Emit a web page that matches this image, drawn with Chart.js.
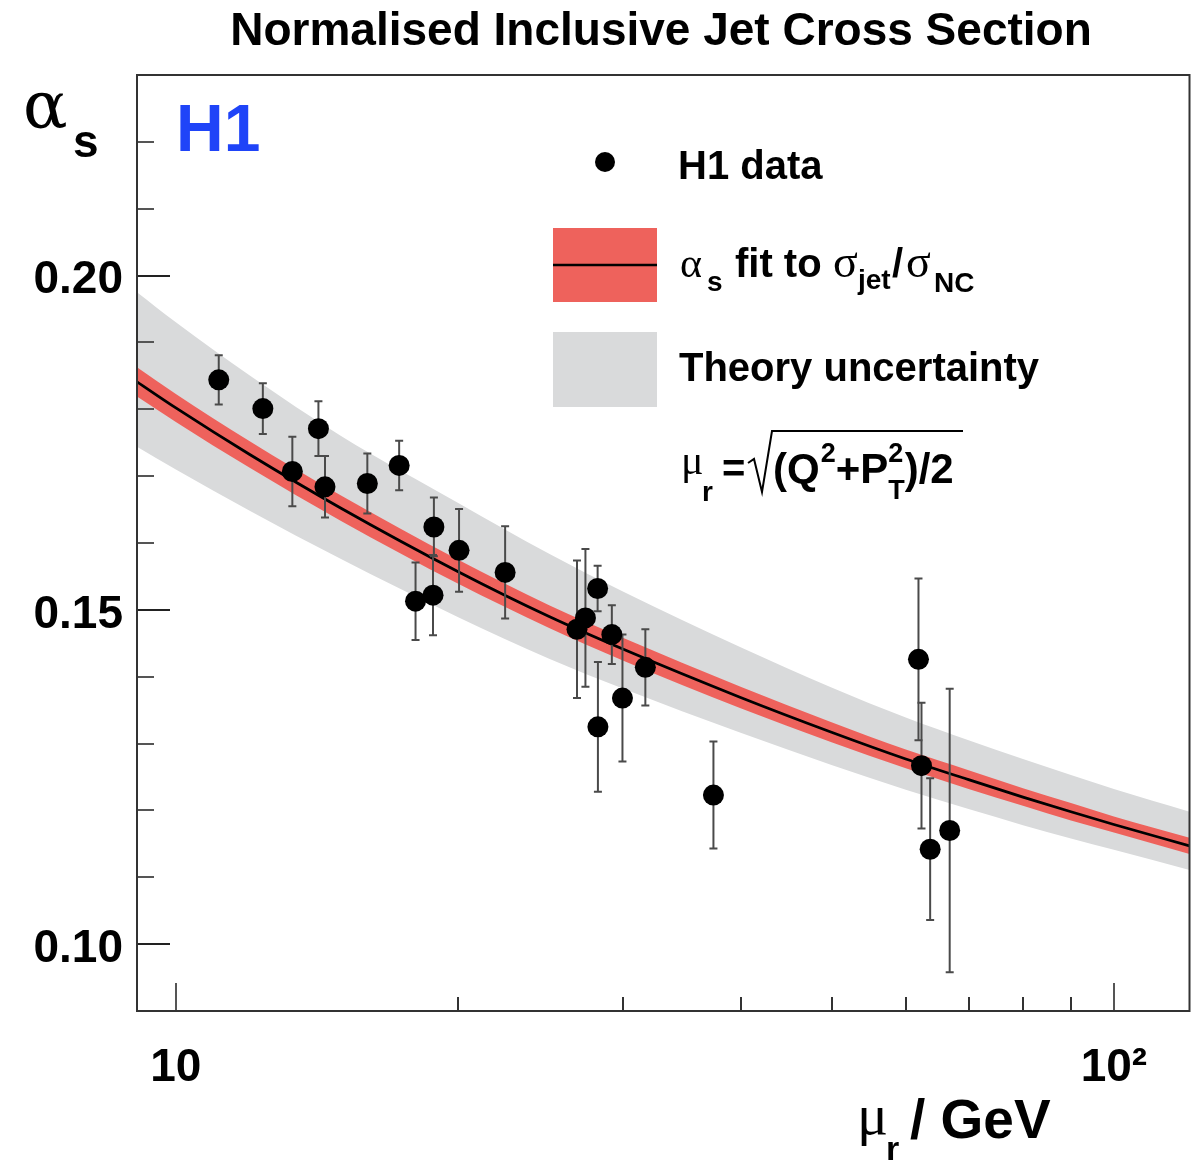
<!DOCTYPE html>
<html>
<head>
<meta charset="utf-8">
<script src="https://cdn.jsdelivr.net/npm/chart.js@4.4.1/dist/chart.umd.min.js"></script>
<style>
  html, body { margin: 0; padding: 0; background: #fff; }
  canvas { display: block; }
</style>
</head>
<body>
<canvas id="c" width="1200" height="1162"></canvas>
<script>
// H1 measurements: renormalisation scale (GeV), alpha_s and total uncertainty
const muData    = [11.11, 12.38, 13.31, 14.19, 14.42, 16.00, 17.30, 18.01, 18.80, 18.84, 20.04, 22.44,
                   26.77, 27.33, 28.16, 28.18, 29.16, 29.93, 31.66, 37.42, 61.90, 62.36, 63.70, 66.83];
const alphaData = [0.1844, 0.1801, 0.1707, 0.1771, 0.1684, 0.1689, 0.1716, 0.1513, 0.1522, 0.1624, 0.1589, 0.1556,
                   0.1471, 0.1488, 0.1532, 0.1325, 0.1463, 0.1368, 0.1414, 0.1223, 0.1426, 0.1267, 0.1142, 0.1170];
const alphaErr  = [0.0037, 0.0038, 0.0052, 0.0041, 0.0046, 0.0045, 0.0037, 0.0058, 0.0060, 0.0044, 0.0062, 0.0069,
                   0.0103, 0.0103, 0.0034, 0.0097, 0.0044, 0.0095, 0.0057, 0.0080, 0.0121, 0.0094, 0.0106, 0.0212];

// Running of the fitted alpha_s, its experimental band and the theory band
const curveMu     = [9.09, 10, 12, 15, 20, 25, 30, 40, 50, 60, 70, 80, 90, 100, 120.4];
const fitCentral  = [0.1841, 0.1802, 0.1732, 0.1652, 0.1557, 0.1490, 0.1441, 0.1369, 0.1317, 0.1277, 0.1246, 0.1220, 0.1198, 0.1179, 0.1147];
const fitHigh     = [0.1863, 0.1823, 0.1752, 0.1671, 0.1575, 0.1507, 0.1458, 0.1385, 0.1332, 0.1291, 0.1260, 0.1233, 0.1211, 0.1191, 0.1159];
const fitLow      = [0.1819, 0.1781, 0.1712, 0.1633, 0.1539, 0.1473, 0.1424, 0.1353, 0.1302, 0.1263, 0.1232, 0.1207, 0.1185, 0.1167, 0.1135];
const theoryHigh  = [0.1975, 0.1930, 0.1850, 0.1760, 0.1660, 0.1584, 0.1527, 0.1444, 0.1384, 0.1339, 0.1305, 0.1277, 0.1253, 0.1232, 0.1198];
const theoryLow   = [0.1744, 0.1710, 0.1648, 0.1576, 0.1489, 0.1427, 0.1382, 0.1316, 0.1268, 0.1231, 0.1202, 0.1178, 0.1158, 0.1141, 0.1111];

// Axis ticks
const xTickValues = [10, 20, 30, 40, 50, 60, 70, 80, 90, 100];
const xTickLabels = { 10: '10', 100: '10²' };
const yTickLabels = ['0.10', '0.15', '0.20'];

const SANS  = '"Liberation Sans", Arial, Helvetica, sans-serif';
const SERIF = '"Liberation Serif", "Times New Roman", serif';
const WIDE_SERIF = '"DejaVu Serif", "Liberation Serif", serif';
const RED   = '#ee625c';
const GREY  = '#d9dadb';

const pairs = (xs, ys) => xs.map((x, i) => ({ x: x, y: ys[i] }));

// error bars under the markers
const errorBars = {
  id: 'errorBars',
  beforeDatasetDraw(chart, args) {
    if (args.index !== 0) return;
    const { ctx, scales: { x, y } } = chart;
    ctx.save();
    ctx.beginPath();
    ctx.rect(chart.chartArea.left, chart.chartArea.top, chart.chartArea.width, chart.chartArea.height);
    ctx.clip();
    ctx.strokeStyle = '#4a4a4a';
    ctx.lineWidth = 2;
    muData.forEach((m, i) => {
      const px = x.getPixelForValue(m);
      const top = y.getPixelForValue(alphaData[i] + alphaErr[i]);
      const bot = y.getPixelForValue(alphaData[i] - alphaErr[i]);
      ctx.beginPath();
      ctx.moveTo(px, top); ctx.lineTo(px, bot);
      ctx.moveTo(px - 4, top); ctx.lineTo(px + 4, top);
      ctx.moveTo(px - 4, bot); ctx.lineTo(px + 4, bot);
      ctx.stroke();
    });
    ctx.restore();
  }
};

// frame and inward tick marks
const frameTicks = {
  id: 'frameTicks',
  afterDatasetsDraw(chart) {
    const { ctx, chartArea: a, scales: { x, y } } = chart;
    ctx.save();
    ctx.lineWidth = 2;
    x.ticks.forEach(t => {
      const v = t.value;
      const major = Math.abs(Math.log10(v) - Math.round(Math.log10(v))) < 1e-9;
      const px = Math.round(x.getPixelForValue(v));
      ctx.strokeStyle = major ? '#555' : '#333';
      ctx.beginPath();
      ctx.moveTo(px, a.bottom);
      ctx.lineTo(px, a.bottom - (major ? 28 : 14));
      ctx.stroke();
    });
    y.ticks.forEach(t => {
      const v = t.value;
      const py = Math.round(y.getPixelForValue(v));
      if (py <= a.top + 2 || py >= a.bottom - 2) return;
      const major = yTickLabels.includes(v.toFixed(2));
      ctx.strokeStyle = major ? '#222' : '#555';
      ctx.beginPath();
      ctx.moveTo(a.left, py);
      ctx.lineTo(a.left + (major ? 33 : 17), py);
      ctx.stroke();
    });
    ctx.strokeStyle = '#333';
    ctx.strokeRect(a.left, a.top, a.right - a.left, a.bottom - a.top);
    ctx.restore();
  }
};

function put(ctx, s, x, y, font, color) {
  ctx.font = font;
  ctx.fillStyle = color || '#000';
  ctx.textAlign = 'left';
  ctx.textBaseline = 'alphabetic';
  ctx.fillText(s, x, y);
  return x + ctx.measureText(s).width;
}

// title, axis titles, experiment tag and legend
const annotations = {
  id: 'annotations',
  afterDraw(chart) {
    const ctx = chart.ctx;
    ctx.save();
    // title
    ctx.font = 'bold 46px ' + SANS;
    ctx.fillStyle = '#000';
    ctx.textAlign = 'center';
    ctx.textBaseline = 'alphabetic';
    ctx.fillText('Normalised Inclusive Jet Cross Section', 661, 45);

    // y axis title
    put(ctx, 'α', 23, 128, '66px ' + WIDE_SERIF);
    put(ctx, 's', 73, 157, 'bold 46px ' + SANS);

    // x axis title
    put(ctx, 'μ', 857, 1134, '58px ' + SERIF);
    put(ctx, 'r', 886, 1160, 'bold 34px ' + SANS);
    put(ctx, '/ GeV', 910, 1138, 'bold 55px ' + SANS);

    // experiment tag
    put(ctx, 'H1', 176, 151, 'bold 66px ' + SANS, '#1f44f8');

    // legend: data marker
    ctx.fillStyle = '#000';
    ctx.beginPath();
    ctx.arc(605, 162, 10, 0, Math.PI * 2);
    ctx.fill();
    put(ctx, 'H1 data', 678, 179, 'bold 40px ' + SANS);

    // legend: fit band
    ctx.fillStyle = RED;
    ctx.fillRect(553, 228, 104, 74);
    ctx.strokeStyle = '#000';
    ctx.lineWidth = 2.5;
    ctx.beginPath();
    ctx.moveTo(553, 265); ctx.lineTo(657, 265);
    ctx.stroke();
    put(ctx, 'α', 680, 277, '42px ' + SERIF);
    put(ctx, 's', 707, 291, 'bold 28px ' + SANS);
    put(ctx, 'fit to', 735, 277, 'bold 40px ' + SANS);
    put(ctx, 'σ', 833, 277, '46px ' + SERIF);
    put(ctx, 'jet', 858, 289, 'bold 28px ' + SANS);
    put(ctx, '/', 892, 277, 'bold 40px ' + SANS);
    put(ctx, 'σ', 906, 277, '46px ' + SERIF);
    put(ctx, 'NC', 934, 292, 'bold 28px ' + SANS);

    // legend: theory band
    ctx.fillStyle = GREY;
    ctx.fillRect(553, 332, 104, 75);
    put(ctx, 'Theory uncertainty', 679, 381, 'bold 40px ' + SANS);

    // scale definition
    put(ctx, 'μ', 681, 474, '42px ' + SERIF);
    put(ctx, 'r', 702, 501, 'bold 28px ' + SANS);
    put(ctx, '=', 722, 482, 'bold 40px ' + SANS);
    ctx.strokeStyle = '#000';
    ctx.lineWidth = 2;
    ctx.beginPath();
    ctx.moveTo(748, 463);
    ctx.lineTo(754, 459);
    ctx.lineTo(762, 492);
    ctx.lineTo(772, 431);
    ctx.lineTo(963, 431);
    ctx.stroke();
    let cx = put(ctx, '(Q', 773, 483, 'bold 42px ' + SANS);
    put(ctx, '2', cx + 1, 462, 'bold 27px ' + SANS);
    cx = put(ctx, '+P', cx + 16, 483, 'bold 42px ' + SANS);
    put(ctx, '2', cx, 462, 'bold 27px ' + SANS);
    const tEnd = put(ctx, 'T', cx, 499, 'bold 27px ' + SANS);
    put(ctx, ')/2', tEnd, 483, 'bold 42px ' + SANS);
    ctx.restore();
  }
};

new Chart(document.getElementById('c'), {
  type: 'line',
  data: {
    datasets: [
      { // measurements
        data: pairs(muData, alphaData),
        showLine: false,
        pointRadius: 10.5,
        pointBackgroundColor: '#000',
        pointBorderWidth: 0
      },
      { // fitted running
        data: pairs(curveMu, fitCentral),
        borderColor: '#000',
        borderWidth: 2.8,
        pointRadius: 0,
        cubicInterpolationMode: 'monotone',
        fill: false
      },
      { // fit band, upper edge
        data: pairs(curveMu, fitHigh),
        borderWidth: 0,
        borderColor: 'rgba(0,0,0,0)',
        backgroundColor: RED,
        pointRadius: 0,
        cubicInterpolationMode: 'monotone',
        fill: '+1'
      },
      { // fit band, lower edge
        data: pairs(curveMu, fitLow),
        borderWidth: 0,
        borderColor: 'rgba(0,0,0,0)',
        pointRadius: 0,
        cubicInterpolationMode: 'monotone',
        fill: false
      },
      { // theory band, upper edge
        data: pairs(curveMu, theoryHigh),
        borderWidth: 0,
        borderColor: 'rgba(0,0,0,0)',
        backgroundColor: GREY,
        pointRadius: 0,
        cubicInterpolationMode: 'monotone',
        fill: '+1'
      },
      { // theory band, lower edge
        data: pairs(curveMu, theoryLow),
        borderWidth: 0,
        borderColor: 'rgba(0,0,0,0)',
        pointRadius: 0,
        cubicInterpolationMode: 'monotone',
        fill: false
      }
    ]
  },
  options: {
    responsive: false,
    animation: false,
    events: [],
    layout: { padding: { top: 75, right: 7, left: 0, bottom: 0 } },
    plugins: { legend: { display: false }, tooltip: { enabled: false }, title: { display: false } },
    scales: {
      x: {
        type: 'logarithmic',
        min: 9.09,
        max: 120.4,
        grid: { display: false, drawTicks: false },
        border: { display: false },
        afterBuildTicks: (s) => { s.ticks = xTickValues.map(v => ({ value: v })); },
        afterFit: (s) => { s.height = 151; },
        ticks: {
          autoSkip: false,
          maxRotation: 0,
          minRotation: 0,
          padding: 30,
          color: '#000',
          font: { family: SANS, size: 46, weight: 'bold' },
          callback: (v) => xTickLabels[v] || ''
        }
      },
      y: {
        type: 'linear',
        min: 0.09,
        max: 0.23,
        grid: { display: false, drawTicks: false },
        border: { display: false },
        afterFit: (s) => { s.width = 137; },
        ticks: {
          stepSize: 0.01,
          autoSkip: false,
          padding: 14,
          labelOffset: 5,
          color: '#000',
          font: { family: SANS, size: 46, weight: 'bold' },
          callback: (v) => { const s = Number(v).toFixed(2); return yTickLabels.includes(s) ? s : ''; }
        }
      }
    }
  },
  plugins: [errorBars, frameTicks, annotations]
});
</script>
</body>
</html>
